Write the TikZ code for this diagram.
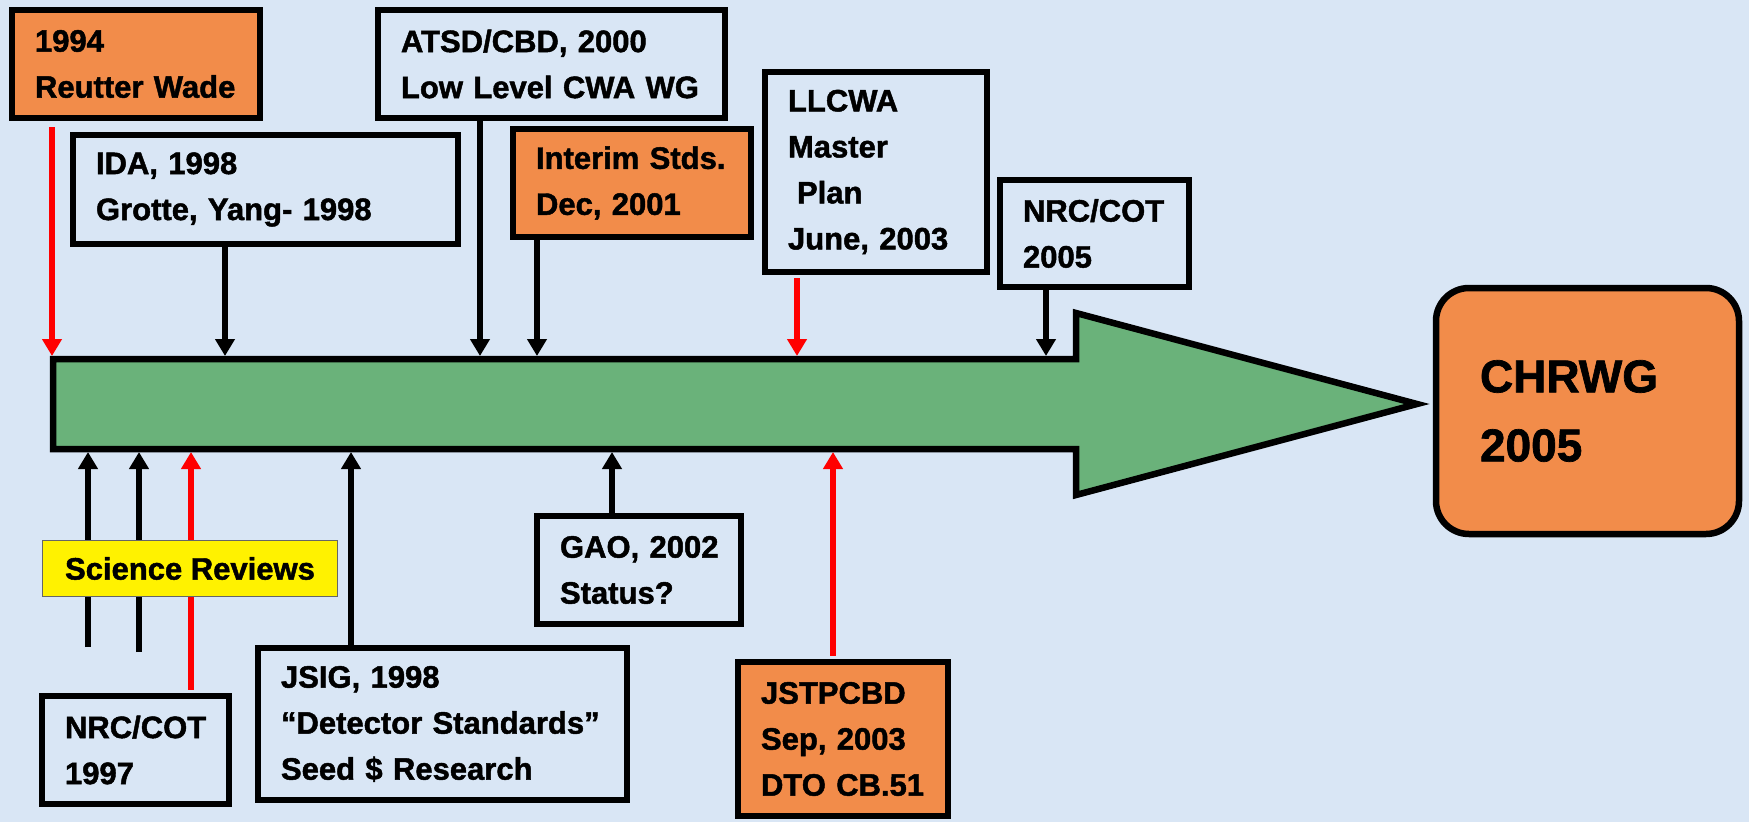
\documentclass[tikz,border=0pt]{standalone}
\usepackage{fontspec}
\setmainfont[BoldFeatures={FakeBold=1.5}]{Liberation Sans}
\usetikzlibrary{arrows.meta}
\definecolor{bgblue}{RGB}{217,230,245}
\definecolor{boxorange}{RGB}{242,140,74}
\definecolor{arrowgreen}{RGB}{106,178,122}
\hfuzz=30pt
\hbadness=10000
\begin{document}
\begin{tikzpicture}[x=1pt,y=-1pt,
  evbox/.style={draw=black, line width=6.5pt, inner xsep=23pt, inner ysep=0pt,
    align=left, font=\bfseries\fontsize{31}{46}\selectfont, anchor=center},
  orangebox/.style={evbox, fill=boxorange},
  conn/.style={line width=6pt, draw=black, -{Triangle[width=19pt,length=17pt]}},
  redconn/.style={conn, draw=red},
]
\useasboundingbox (0,0) rectangle (1749,822);
\fill[bgblue] (0,0) rectangle (1749,822);

% main timeline arrow
\draw[fill=arrowgreen, line width=6.5pt] (53,359) -- (1076,359) -- (1076,313)
  -- (1417,404) -- (1076,495) -- (1076,449) -- (53,449) -- cycle;

% event boxes above
\node[orangebox, minimum width=248pt, minimum height=108pt, text width=202pt] (n1994) at (136,64)
  {1994\\Reutter~Wade};
\node[evbox, minimum width=385pt, minimum height=109pt, text width=339pt] (ida) at (265.5,189.5)
  {IDA,~1998\\Grotte,~Yang-~1998};
\node[evbox, minimum width=347pt, minimum height=108pt, text width=301pt] (atsd) at (551.5,64)
  {ATSD/CBD,~2000\\Low~Level~CWA~WG};
\node[orangebox, minimum width=238pt, minimum height=108pt, text width=192pt] (interim) at (632,183)
  {Interim~Stds.\\Dec,~2001};
\node[evbox, minimum width=222pt, minimum height=200pt, text width=176pt] (llcwa) at (876,172)
  {LLCWA\\Master\\\hspace*{9pt}Plan\\June,~2003};
\node[evbox, minimum width=189pt, minimum height=107pt, text width=143pt] (nrc05) at (1094.5,233.5)
  {NRC/COT\\2005};

% event boxes below
\node[evbox, minimum width=187pt, minimum height=108pt, text width=141pt] (nrc97) at (135.5,750)
  {NRC/COT\\1997};
\node[evbox, minimum width=369pt, minimum height=152pt, text width=323pt] (jsig) at (442.5,724)
  {JSIG,~1998\\“Detector~Standards”\\Seed~\$~Research};
\node[evbox, minimum width=204pt, minimum height=108pt, text width=158pt] (gao) at (639,570)
  {GAO,~2002\\Status?};
\node[orangebox, minimum width=210pt, minimum height=154pt, text width=164pt] (jst) at (843,739)
  {JSTPCBD\\Sep,~2003\\DTO~CB.51};

% goal box
\node[draw=black, fill=boxorange, line width=6.5pt, rounded corners=33pt, inner xsep=44pt, inner ysep=0pt,
  align=left, font=\bfseries\fontsize{46}{69}\selectfont,
  minimum width=303pt, minimum height=246pt, text width=215pt] (chrwg) at (1587.5,411)
  {CHRWG\\2005};

% connector end points on the timeline
\coordinate (a1994) at (52,356);
\coordinate (aida) at (225,356);
\coordinate (aatsd) at (480,356);
\coordinate (aint) at (537,356);
\coordinate (allc) at (797,356);
\coordinate (anrc05) at (1046,356);
\coordinate (b1) at (88,452);
\coordinate (b2) at (139,452);
\coordinate (bnrc97) at (191,452);
\coordinate (bjsig) at (351,452);
\coordinate (bgao) at (612,452);
\coordinate (bjst) at (833,452);
\coordinate (f1) at (88,647);
\coordinate (f2) at (139,652);

% connectors from above
\draw[redconn] ([yshift=-6pt]n1994.south -| a1994) -- (a1994);
\draw[conn] (ida.south -| aida) -- (aida);
\draw[conn] (atsd.south -| aatsd) -- (aatsd);
\draw[conn] (interim.south -| aint) -- (aint);
\draw[redconn] ([yshift=-3pt]llcwa.south -| allc) -- (allc);
\draw[conn] (nrc05.south -| anrc05) -- (anrc05);

% connectors from below
\draw[conn] (f1) -- (b1);
\draw[conn] (f2) -- (b2);
\draw[redconn] ([yshift=3pt]nrc97.north -| bnrc97) -- (bnrc97);
\draw[conn] (jsig.north -| bjsig) -- (bjsig);
\draw[conn] (gao.north -| bgao) -- (bgao);
\draw[redconn] ([yshift=3pt]jst.north -| bjst) -- (bjst);

% label over the review arrows
\node[draw=black!60, line width=1pt, fill=yellow, inner sep=0pt,
  minimum width=295pt, minimum height=56pt,
  font=\bfseries\fontsize{31}{46}\selectfont] (sci) at (190,568.5) {Science Reviews};
\end{tikzpicture}
\end{document}
